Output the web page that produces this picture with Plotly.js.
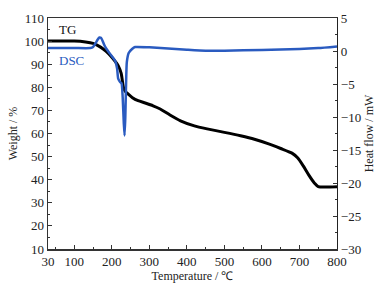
<!DOCTYPE html>
<html><head><meta charset="utf-8">
<script src="https://cdn.plot.ly/plotly-3.0.1.min.js"></script>
<style>html,body{margin:0;padding:0;background:#fff}#c{width:383px;height:289px}</style>
</head><body><div id="c"></div>
<script>
const tgT = [30,100,130,150,170,185,200,210,217,225,231,237,244,255,270,289,310,329,355,383,420,454,500,543,580,618,650,680,695,710,725,740,750,800];
const tgW = [100,100,99.6,99,97.4,95.5,93,91,89.4,86,80,78,77,75.5,74.2,73.2,72,70.6,68,65.5,63.3,62,60.5,59,57.5,55.5,53.5,51.5,49.5,46,42,38.5,37,37];
const dscT = [30,100,143,150,156,162,167,171,175,180,186,195,209,214,217,222,226,229,232,234,236,238,240,245,254,262,300,400,450,500,600,700,750,800];
const dscH = [0.45,0.45,0.45,0.6,1.1,1.7,2.05,2.0,1.6,0.9,0.3,-0.4,-1.5,-2.6,-4.2,-4.7,-4.9,-7,-11,-12.8,-10,-5,-1.7,-0.3,0.3,0.6,0.55,0.2,0.05,0.05,0.15,0.3,0.45,0.7];
const xTicks = [30,100,200,300,400,500,600,700,800];
const xMinor = [50,150,250,350,450,550,650,750];

const serif = 'Liberation Serif, Times New Roman, serif';
const data = [
  {x: tgT, y: tgW, type:'scatter', mode:'lines', line:{color:'#000', width:3, shape:'spline', smoothing:0.6}, yaxis:'y', hoverinfo:'skip'},
  {x: dscT, y: dscH, type:'scatter', mode:'lines', line:{color:'#2a5bc0', width:2.5, shape:'spline', smoothing:0.5}, yaxis:'y2', hoverinfo:'skip'}
];
const layout = {
  width:383, height:289, margin:{l:48, r:46, t:18, b:40},
  paper_bgcolor:'#fff', plot_bgcolor:'#fff', showlegend:false,
  font:{family:serif, size:13, color:'#222'},
  xaxis:{range:[30,800], tickmode:'array', tickvals:xTicks, ticktext:xTicks.map(String),
    ticks:'inside', ticklen:4, tickwidth:1, tickcolor:'#333', showline:true, linecolor:'#333', linewidth:1.5, mirror:true,
    showgrid:false, zeroline:false, tickfont:{family:serif, size:13, color:'#222'},
    minor:{tickmode:'array', tickvals:xMinor, ticks:'inside', ticklen:2, tickcolor:'#333', showgrid:false},
    title:{text:'Temperature / ℃', font:{family:serif, size:12, color:'#222'}, standoff:3}},
  yaxis:{range:[10,110], dtick:10, tick0:10, ticks:'inside', ticklen:4, tickcolor:'#333', showline:true, linecolor:'#333', linewidth:1.5,
    showgrid:false, zeroline:false, tickfont:{family:serif, size:13, color:'#222'},
    minor:{dtick:5, tick0:5, ticks:'inside', ticklen:2, tickcolor:'#333', showgrid:false},
    title:{text:'Weight / %', font:{family:serif, size:12, color:'#222'}, standoff:4}},
  yaxis2:{range:[-30,5], dtick:5, tick0:0, overlaying:'y', side:'right', ticks:'inside', ticklen:4, tickcolor:'#333',
    showline:true, linecolor:'#222', linewidth:1.2, showgrid:false, zeroline:false,
    tickfont:{family:serif, size:13, color:'#222'},
    minor:{dtick:2.5, tick0:0, ticks:'inside', ticklen:2, tickcolor:'#333', showgrid:false},
    title:{text:'Heat flow / mW', font:{family:serif, size:12, color:'#222'}, standoff:4}},
  annotations:[
    {xref:'paper', yref:'paper', x:0.032, y:0.952, xanchor:'left', yanchor:'middle', text:'TG', showarrow:false, font:{family:serif, size:13, color:'#111'}},
    {xref:'paper', yref:'paper', x:0.032, y:0.818, xanchor:'left', yanchor:'middle', text:'DSC', showarrow:false, font:{family:serif, size:13, color:'#2a5bc0'}}
  ]
};
Plotly.newPlot('c', data, layout, {staticPlot:true, displayModeBar:false});
</script></body></html>
